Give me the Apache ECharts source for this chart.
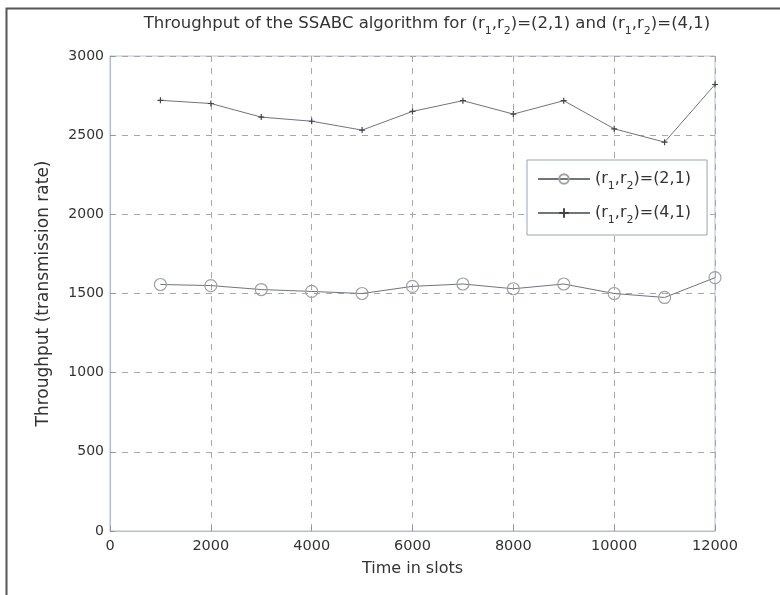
<!DOCTYPE html>
<html>
<head>
<meta charset="utf-8">
<script src="https://cdn.jsdelivr.net/npm/echarts@6/dist/echarts.min.js"></script>
<style>
  html, body { margin: 0; padding: 0; background: #fff; }
  #chart { width: 780px; height: 595px; }
</style>
</head>
<body>
<div id="chart"></div>
<script>
// slot positions
const slots = [1000, 2000, 3000, 4000, 5000, 6000, 7000, 8000, 9000, 10000, 11000, 12000]
// throughput (r1,r2)=(2,1)
const thr21 = [1557, 1550, 1525, 1513, 1500, 1545, 1560, 1530, 1560, 1500, 1475, 1600]
// throughput (r1,r2)=(4,1)
const thr41 = [2720, 2700, 2614, 2588, 2532, 2650, 2718, 2633, 2718, 2540, 2456, 2820]
const seriesNames = ['(r{sub|1},r{sub|2})=(2,1)', '(r{sub|1},r{sub|2})=(4,1)']

const font = 'DejaVu Sans, Verdana, sans-serif'
const subStyle = { fontSize: 11, verticalAlign: 'bottom', lineHeight: 14, padding: [0, 0, -5, 0] }
const gridLine = { show: true, lineStyle: { color: '#a8a8a8', type: [6, 6], width: 1 } }

const chart = echarts.init(document.getElementById('chart'))
const option = {
  backgroundColor: '#fff',
  animation: false,
  textStyle: { fontFamily: font },
  title: {
    text: 'Throughput of the SSABC algorithm for (r{sub|1},r{sub|2})=(2,1) and (r{sub|1},r{sub|2})=(4,1)',
    left: 422,
    textAlign: 'center',
    top: 10,
    textStyle: {
      fontSize: 16.5, fontWeight: 'normal', color: '#333', fontFamily: font,
      rich: { sub: Object.assign({ color: '#333', fontFamily: font }, subStyle) }
    }
  },
  legend: {
    orient: 'vertical',
    left: 527,
    top: 160,
    itemWidth: 52,
    itemHeight: 12,
    itemGap: 13,
    padding: [11, 16, 9, 10],
    borderColor: '#9aa3b5',
    borderWidth: 1,
    backgroundColor: '#fff',
    data: seriesNames,
    textStyle: {
      fontSize: 16, color: '#333', fontFamily: font,
      rich: { sub: Object.assign({ color: '#333', fontFamily: font }, subStyle) }
    }
  },
  grid: {
    left: 110, right: 65, top: 56, bottom: 64,
    show: true, borderColor: '#b4bed2', borderWidth: 1
  },
  xAxis: {
    type: 'value',
    min: 0, max: 12000, interval: 2000,
    name: 'Time in slots',
    nameLocation: 'middle',
    nameGap: 30,
    nameTextStyle: { fontSize: 16, color: '#333' },
    axisLine: { show: true, lineStyle: { color: '#b4bed2' } },
    axisTick: { show: true, inside: true, length: 5, lineStyle: { color: '#8a94a8' } },
    axisLabel: { fontSize: 14.5, color: '#333', margin: 8, formatter: v => String(v) },
    splitLine: gridLine
  },
  yAxis: {
    type: 'value',
    min: 0, max: 3000, interval: 500,
    name: 'Throughput (transmission rate)',
    nameLocation: 'middle',
    nameGap: 58,
    nameTextStyle: { fontSize: 17, color: '#333' },
    axisLine: { show: true, lineStyle: { color: '#b4bed2' } },
    axisTick: { show: true, inside: true, length: 5, lineStyle: { color: '#8a94a8' } },
    axisLabel: { fontSize: 14, color: '#333', margin: 6, formatter: v => String(v) },
    splitLine: gridLine
  },
  series: [
    {
      name: seriesNames[0],
      type: 'line',
      data: slots.map((s, i) => [s, thr21[i]]),
      symbol: 'circle',
      symbolSize: 12,
      showAllSymbol: true,
      lineStyle: { color: '#6f7480', width: 1 },
      itemStyle: { color: 'rgba(0,0,0,0)', borderColor: '#a0a0a0', borderWidth: 1.2 }
    },
    {
      name: seriesNames[1],
      type: 'line',
      data: slots.map((s, i) => [s, thr41[i]]),
      symbol: 'path://M4,0H6V4H10V6H6V10H4V6H0V4H4Z',
      symbolSize: 6,
      lineStyle: { color: '#6f7480', width: 1 },
      itemStyle: { color: '#444' }
    }
  ],
  graphic: [
    {
      type: 'rect',
      shape: { x: 6.5, y: 8.5, width: 790, height: 600 },
      style: { fill: 'none', stroke: '#555', lineWidth: 2 },
      silent: true
    }
  ]
}
chart.setOption(option)
</script>
</body>
</html>
